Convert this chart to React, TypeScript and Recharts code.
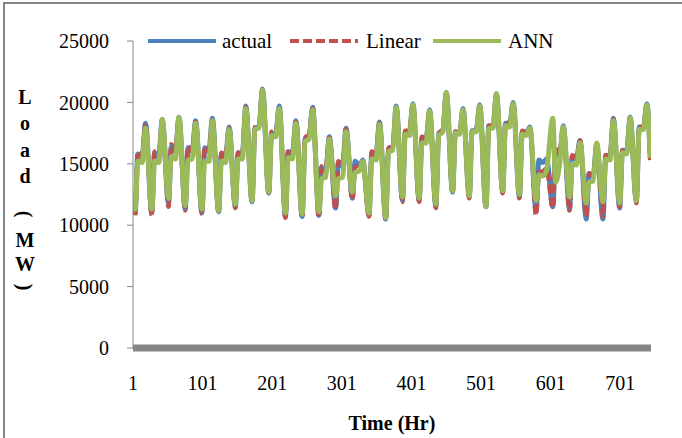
import React from 'react';
import { LineChart, Line, XAxis, YAxis, Legend } from 'recharts';

// hour of day at which each daily reading below is taken
const readingHours = [4, 8, 14, 19];

// one row per day: [night low, morning, afternoon, evening peak] in MW
const actual = [
  [11000, 15800, 15500, 18300], [11000, 15900, 15600, 18600], [11800, 16400, 16000, 18800],
  [11300, 16300, 16000, 18500], [11000, 16300, 16000, 18700], [11100, 15800, 15600, 18000],
  [11500, 15900, 15800, 19700], [11900, 17900, 18000, 21100], [12600, 17500, 17400, 19700],
  [10700, 16000, 15800, 18500], [10700, 17000, 17300, 19600], [10800, 14700, 14500, 17200],
  [11400, 15100, 14800, 17900], [12200, 15200, 14800, 15300], [10800, 15900, 15700, 18400],
  [10500, 16200, 16300, 19700], [12000, 17600, 17500, 19900], [12000, 17100, 17000, 19400],
  [11500, 17400, 17700, 20800], [12700, 17600, 17500, 19500], [12300, 17700, 17700, 19800],
  [11500, 18100, 18000, 20700], [12700, 18300, 18200, 20000], [12300, 17600, 17500, 18000],
  [11200, 15300, 15100, 15400], [11500, 16000, 15800, 18100], [11300, 15600, 15400, 16900],
  [10500, 14200, 14000, 16600], [10500, 15700, 15500, 18700], [11400, 16100, 16000, 18800],
  [11900, 18000, 17900, 19900],
];

const linear = [
  [10800, 16000, 15700, 18200], [10800, 16000, 15800, 18500], [11500, 16600, 16200, 18700],
  [11200, 16400, 16100, 18400], [10900, 16400, 16100, 18600], [11000, 15900, 15700, 17900],
  [11400, 15900, 15800, 19600], [11800, 18000, 18100, 21000], [12500, 17600, 17500, 19600],
  [10600, 16200, 16000, 18400], [10600, 17100, 17400, 19500], [10700, 14800, 14700, 17100],
  [11300, 15200, 15000, 17800], [12100, 14800, 14700, 15100], [10700, 16000, 15800, 18300],
  [10400, 16300, 16400, 19600], [11900, 17700, 17700, 19800], [11900, 17200, 17100, 19300],
  [11400, 17500, 17800, 20700], [12600, 17600, 17500, 19400], [12200, 17700, 17800, 19700],
  [11400, 18100, 18100, 20600], [12600, 18400, 18300, 19900], [12200, 17700, 17600, 17900],
  [10800, 14300, 14400, 14600], [11400, 16200, 16000, 18000], [11200, 15700, 15500, 16900],
  [10700, 14200, 14100, 16600], [10700, 15700, 15600, 18600], [11500, 16100, 16000, 18700],
  [11800, 18000, 18000, 19800],
];

const ann = [
  [11300, 15200, 15100, 17900], [11300, 15200, 15100, 18600], [12200, 15600, 15400, 18800],
  [11600, 15300, 15400, 18300], [11300, 15200, 15200, 18500], [11200, 15200, 15100, 17800],
  [11700, 15400, 15400, 19500], [12000, 17800, 17900, 21000], [12700, 17300, 17200, 19500],
  [11000, 15500, 15400, 18300], [10900, 16800, 17000, 19400], [11100, 13800, 13900, 17000],
  [12400, 13800, 13900, 17600], [12700, 14300, 14400, 15200], [11000, 15400, 15300, 18200],
  [10600, 16000, 16100, 19600], [12300, 17400, 17300, 19800], [12200, 16700, 16700, 19300],
  [11700, 17300, 17600, 20800], [12800, 17500, 17400, 19400], [12400, 17600, 17600, 19700],
  [11500, 17900, 17900, 20700], [12800, 18100, 18000, 19900], [12500, 17400, 17300, 17900],
  [12000, 14100, 14000, 14500], [18700, 13500, 15100, 18000], [12300, 15000, 14900, 16700],
  [11800, 13500, 13600, 16700], [11900, 15400, 15300, 18500], [11800, 15900, 15800, 18700],
  [12000, 17800, 17800, 19800],
];

// first and last hour of the month
const edgeHours = [1, 744];
const actualEdges = [12000, 15400];
const linearEdges = [11800, 15300];
const annEdges = [12200, 15500];

const xTicks = [1, 101, 201, 301, 401, 501, 601, 701];
const yTicks = [0, 5000, 10000, 15000, 20000, 25000];

const data: { hour: number; actual: number; linear: number; ann: number }[] = [];
data.push({ hour: edgeHours[0], actual: actualEdges[0], linear: linearEdges[0], ann: annEdges[0] });
actual.forEach((day, d) => {
  readingHours.forEach((h, i) => {
    data.push({ hour: d * 24 + h, actual: day[i], linear: linear[d][i], ann: ann[d][i] });
  });
});
data.push({ hour: edgeHours[1], actual: actualEdges[1], linear: linearEdges[1], ann: annEdges[1] });

const FONT = '"Liberation Serif", "Times New Roman", serif';
const AXIS_GREY = '#868686';
const BLUE = '#4F81BD';
const RED = '#C0504D';
const GREEN = '#9BBB59';

const LegendBox = () => {
  const items = [
    { name: 'actual', color: BLUE, dash: undefined, line: 148, text: 222 },
    { name: 'Linear', color: RED, dash: '9 4', line: 290, text: 366 },
    { name: 'ANN', color: GREEN, dash: undefined, line: 433, text: 508 },
  ];
  return (
    <div style={{ position: 'relative', width: 682, height: 26, fontFamily: FONT, fontSize: 21, color: '#000' }}>
      {items.map((it) => (
        <React.Fragment key={it.name}>
          <svg width={68} height={8} style={{ position: 'absolute', left: it.line, top: 9 }}>
            <line x1={0} y1={4} x2={68} y2={4} stroke={it.color} strokeWidth={4} strokeDasharray={it.dash} />
          </svg>
          <span style={{ position: 'absolute', left: it.text, top: 0, lineHeight: '26px' }}>{it.name}</span>
        </React.Fragment>
      ))}
    </div>
  );
};

const YTitle = () => {
  const chars = [
    { c: 'L', y: 97 }, { c: 'o', y: 123 }, { c: 'a', y: 150 }, { c: 'd', y: 176 },
    { c: '(', y: 214, rot: true }, { c: 'M', y: 240 }, { c: 'W', y: 264 }, { c: ')', y: 287, rot: true },
  ];
  return (
    <g>
      {chars.map((ch, i) => (
        <text
          key={i}
          x={25}
          y={ch.y}
          textAnchor="middle"
          dominantBaseline="central"
          fontFamily={FONT}
          fontWeight="bold"
          fontSize={20}
          fill="#000"
          transform={ch.rot ? `rotate(90 25 ${ch.y})` : undefined}
        >
          {ch.c}
        </text>
      ))}
    </g>
  );
};

const App: React.FC = () => {
  return (
    <div style={{ position: 'absolute', left: 0, top: 0, width: 682, height: 438, background: '#fff', overflow: 'hidden' }}>
      <div
        style={{
          position: 'absolute', left: 3, top: 2, width: 700, height: 434,
          borderLeft: `2px solid ${AXIS_GREY}`, borderTop: `2px solid ${AXIS_GREY}`, borderBottom: '1px solid #dcdcdc',
        }}
      />
      <LineChart width={682} height={438} data={data} margin={{ top: 41, right: 31, bottom: 0, left: 0 }}>
        <XAxis
          dataKey="hour"
          type="number"
          domain={[1, 745]}
          ticks={xTicks}
          allowDataOverflow
          tickLine={false}
          tickSize={0}
          tickMargin={28}
          height={90}
          axisLine={{ stroke: AXIS_GREY, strokeWidth: 7 }}
          tick={{ fontFamily: FONT, fontSize: 20, fill: '#000' }}
          label={{ value: 'Time (Hr)', position: 'insideBottom', offset: 8, style: { fontFamily: FONT, fontSize: 20, fontWeight: 'bold', fill: '#000' } }}
        />
        <YAxis
          domain={[0, 25000]}
          ticks={yTicks}
          width={133}
          tickSize={6}
          tickMargin={18}
          axisLine={{ stroke: AXIS_GREY }}
          tickLine={{ stroke: AXIS_GREY }}
          tick={{ fontFamily: FONT, fontSize: 20, fill: '#000' }}
          label={<YTitle />}
        />
        <Legend verticalAlign="middle" content={<LegendBox />} wrapperStyle={{ top: 28, left: 0, width: 682 }} />
        <Line type="monotone" dataKey="actual" name="actual" stroke={BLUE} strokeWidth={5} dot={false} isAnimationActive={false} />
        <Line type="monotone" dataKey="linear" name="Linear" stroke={RED} strokeWidth={4.5} strokeDasharray="9 4" dot={false} isAnimationActive={false} />
        <Line type="monotone" dataKey="ann" name="ANN" stroke={GREEN} strokeWidth={5} dot={false} isAnimationActive={false} />
      </LineChart>
    </div>
  );
};

export default App;
